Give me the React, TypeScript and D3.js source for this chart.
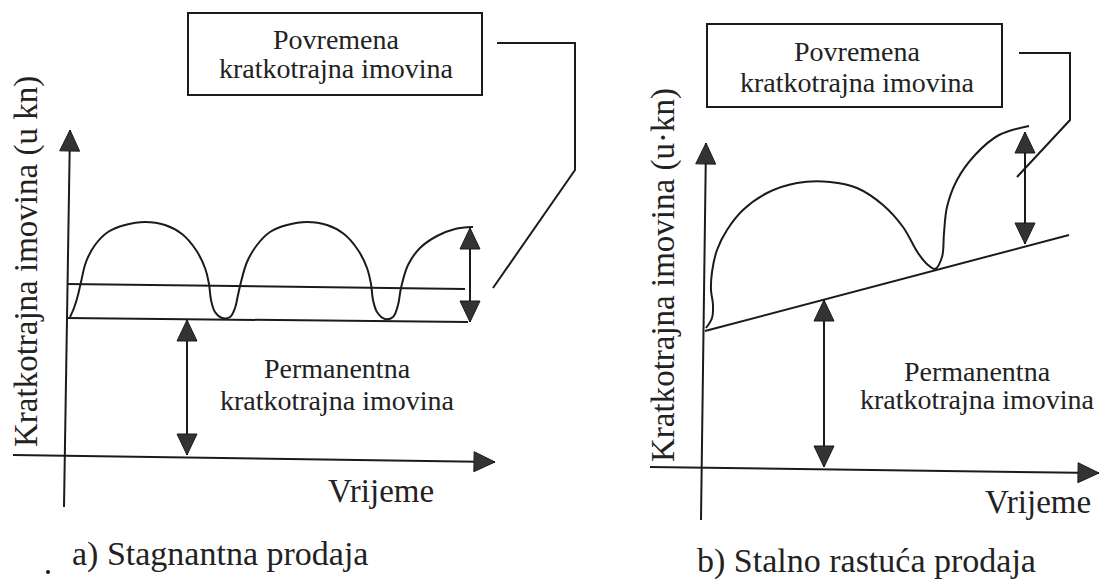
import { useEffect, useRef } from "react";
import * as d3 from "d3";

type Pt = [number, number];

// a) Stagnantna prodaja — [vrijeme, iznos]
const stagnantCurve: Pt[] = [
  [0, 13.8], [0.4, 14.7], [0.8, 16.0], [1.1, 17.3], [1.6, 19.3], [2.5, 21.0],
  [3.8, 22.3], [5.5, 23.0], [7.5, 23.3], [9.5, 23.0], [11.2, 22.1], [12.6, 20.5],
  [13.5, 18.7], [13.9, 17.1], [14.1, 15.5], [14.5, 14.3], [15.2, 13.7], [16.0, 13.8],
  [16.5, 14.7], [16.8, 16.0], [17.1, 17.3], [17.7, 19.3], [18.7, 21.0], [20.0, 22.3],
  [21.7, 23.0], [23.7, 23.3], [25.7, 23.0], [27.4, 22.1], [28.8, 20.5], [29.7, 18.7],
  [30.1, 17.1], [30.3, 15.5], [30.7, 14.3], [31.5, 13.6], [32.3, 13.8], [32.8, 15.0],
  [33.1, 16.7], [33.8, 19.0], [35.0, 20.7], [36.7, 21.9], [38.5, 22.6], [40.3, 22.8],
];
const stagnantPermanent: Pt[] = [[-0.3, 13.7], [39.8, 13.3]];
const stagnantAverage: Pt[] = [[-0.3, 17.1], [39.5, 16.6]];

// b) Stalno rastuća prodaja
const growingCurve: Pt[] = [
  [0.2, 13.9], [0.8, 14.9], [0.9, 16.2], [0.7, 17.7], [0.8, 19.5], [1.3, 21.7],
  [2.3, 23.7], [3.9, 25.7], [6.3, 27.4], [9.3, 28.4], [12.6, 28.5], [15.3, 27.9],
  [17.9, 26.2], [19.9, 24.0], [21.4, 21.4], [22.4, 20.2], [23.1, 19.8], [23.8, 21.0],
  [24.0, 23.4], [24.3, 26.0], [25.3, 28.7], [27.1, 31.2], [29.5, 33.2], [32.5, 34.1],
];
const growingPermanent: Pt[] = [[0.1, 13.6], [36.5, 23.2]];

const boxLines = ["Povremena", "kratkotrajna imovina"];
const permLines = ["Permanentna", "kratkotrajna imovina"];
const timeLabel = "Vrijeme";
const captions = ["a) Stagnantna prodaja", "b) Stalno rastuća prodaja"];
const yLabels = ["Kratkotrajna imovina (u kn)", "Kratkotrajna imovina (u·kn)"];

const W = 1102;
const H = 584;
const UNIT = 10;
const INK = "#1b1b1b";
const FILL = "#333";
const FONT = "'Liberation Serif', 'Times New Roman', serif";

interface Panel {
  origin: Pt;
  yAxis: Pt[];
  xAxis: Pt[];
  curve: Pt[];
  lines: Pt[][];
  variable: [number, number, number];
  permanent: [number, number, number];
  box: [number, number, number, number];
  boxText: [number, number, number];
  leader: Pt[];
  permText: [number, number, number];
  time: Pt;
  caption: Pt;
  yLabel: Pt;
}

const panels: Panel[] = [
  {
    origin: [70, 455],
    yAxis: [[-0.6, -5.2], [0, 32.5]],
    xAxis: [[-5.7, 0], [42.5, -0.7]],
    curve: stagnantCurve,
    lines: [stagnantPermanent, stagnantAverage],
    variable: [40, 13.3, 22.7],
    permanent: [11.7, 0, 13.5],
    box: [188, 13, 294, 82],
    boxText: [336, 49, 78],
    leader: [[497, 43], [575, 43], [575, 170], [493, 288]],
    permText: [337, 378, 410],
    time: [328, 502],
    caption: [72, 565],
    yLabel: [37, 447],
  },
  {
    origin: [704, 467],
    yAxis: [[-0.3, -5.3], [0.2, 32.4]],
    xAxis: [[-5.4, 0], [39.5, -0.6]],
    curve: growingCurve,
    lines: [growingPermanent],
    variable: [32.1, 22.3, 33.5],
    permanent: [12, 0, 16.7],
    box: [707, 24, 295, 83],
    boxText: [857, 61, 92],
    leader: [[1019, 53], [1070, 53], [1070, 120], [1017, 177]],
    permText: [977, 381, 409],
    time: [985, 513],
    caption: [697, 572],
    yLabel: [674, 462],
  },
];

function head(g: d3.Selection<SVGGElement, unknown, null, undefined>, from: Pt, tip: Pt) {
  const dx = tip[0] - from[0];
  const dy = tip[1] - from[1];
  const len = Math.hypot(dx, dy);
  const ux = dx / len, uy = dy / len;
  const L = 21, Hw = 10;
  const bx = tip[0] - ux * L, by = tip[1] - uy * L;
  g.append("path")
    .attr("d", `M${tip[0]},${tip[1]}L${bx - uy * Hw},${by + ux * Hw}L${bx + uy * Hw},${by - ux * Hw}Z`)
    .attr("fill", FILL)
    .attr("stroke", INK)
    .attr("stroke-width", 1);
}

export default function App() {
  const ref = useRef<SVGSVGElement>(null);

  useEffect(() => {
    const svg = d3.select(ref.current);
    svg.selectAll("*").remove();

    panels.forEach((p, i) => {
      const x = d3.scaleLinear().domain([0, 40]).range([p.origin[0], p.origin[0] + 40 * UNIT]);
      const y = d3.scaleLinear().domain([0, 40]).range([p.origin[1], p.origin[1] - 40 * UNIT]);
      const pos = (d: Pt): Pt => [x(d[0]), y(d[1])];
      const g = svg.append("g");

      const straight = d3.line<Pt>().x((d) => x(d[0])).y((d) => y(d[1]));
      const smooth = d3.line<Pt>().x((d) => x(d[0])).y((d) => y(d[1])).curve(d3.curveCatmullRom.alpha(0.5));

      // axes
      [p.yAxis, p.xAxis].forEach((ax) => {
        const a = pos(ax[0]), b = pos(ax[1]);
        g.append("path").attr("d", straight(ax)).attr("stroke", INK).attr("stroke-width", 2).attr("fill", "none");
        head(g, a, b);
      });

      p.lines.forEach((ln) => {
        g.append("path").attr("d", straight(ln)).attr("stroke", INK).attr("stroke-width", 2).attr("fill", "none");
      });

      g.append("path").attr("d", smooth(p.curve)).attr("stroke", INK).attr("stroke-width", 2).attr("fill", "none");

      // double arrows
      [p.variable, p.permanent].forEach(([t, v0, v1]) => {
        const a: Pt = [x(t), y(v0)], b: Pt = [x(t), y(v1)];
        g.append("line").attr("x1", a[0]).attr("y1", a[1]).attr("x2", b[0]).attr("y2", b[1])
          .attr("stroke", INK).attr("stroke-width", 2);
        head(g, a, b);
        head(g, b, a);
      });

      // annotation box + leader
      const [bx, by, bw, bh] = p.box;
      g.append("rect").attr("x", bx).attr("y", by).attr("width", bw).attr("height", bh)
        .attr("fill", "none").attr("stroke", INK).attr("stroke-width", 2);
      g.append("path").attr("d", d3.line()(p.leader as [number, number][]))
        .attr("fill", "none").attr("stroke", INK).attr("stroke-width", 2);

      const txt = (tx: number, ty: number, s: string, size: number, anchor = "middle") =>
        g.append("text").attr("x", tx).attr("y", ty).attr("text-anchor", anchor)
          .attr("font-family", FONT).attr("font-size", size).attr("fill", "#222").text(s);

      txt(p.boxText[0], p.boxText[1], boxLines[0], 28);
      txt(p.boxText[0], p.boxText[2], boxLines[1], 28);
      txt(p.permText[0], p.permText[1], permLines[0], 28);
      txt(p.permText[0], p.permText[2], permLines[1], 28);
      txt(p.time[0], p.time[1], timeLabel, 33, "start");
      txt(p.caption[0], p.caption[1], captions[i], 34, "start");

      g.append("text")
        .attr("transform", `translate(${p.yLabel[0]},${p.yLabel[1]}) rotate(-90)`)
        .attr("font-family", FONT).attr("font-size", 33).attr("fill", "#222")
        .text(yLabels[i]);
    });

    svg.append("circle").attr("cx", 48).attr("cy", 572).attr("r", 2).attr("fill", INK);
  }, []);

  return (
    <svg
      ref={ref}
      width={W}
      height={H}
      style={{ position: "absolute", left: 0, top: 0, background: "#fff" }}
    />
  );
}
